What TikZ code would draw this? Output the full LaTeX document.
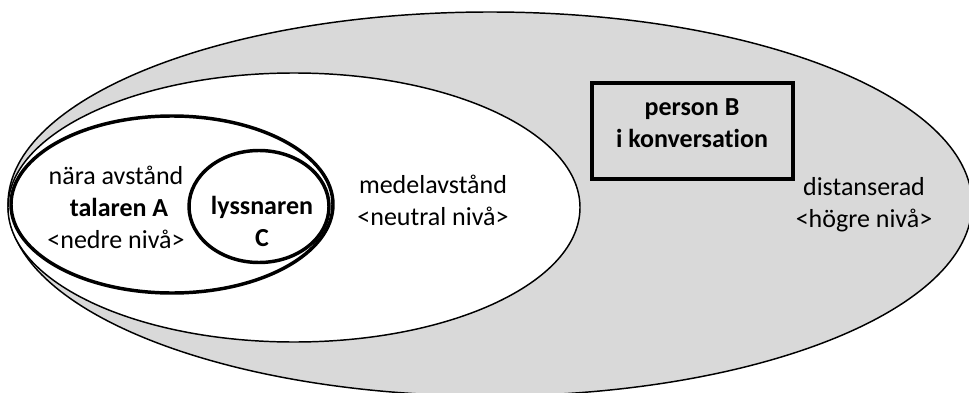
\documentclass[tikz,border=0pt]{standalone}
\usepackage{fontspec}
\setmainfont{Carlito}[Ligatures=NoCommon]
\begin{document}
\begin{tikzpicture}[x=0.75pt,y=-0.75pt,
  thinline/.style={line width=1.1pt},
  thickline/.style={line width=2.6pt},
  label/.style={align=center,inner sep=0pt,font=\fontsize{19.5}{24}\selectfont},
  boldlabel/.style={label,font=\fontsize{19.5}{24}\selectfont\bfseries}]
\definecolor{zonegray}{HTML}{D9D9D9}
\useasboundingbox (0,0) rectangle (969,392);
\clip (0,0) rectangle (969,392);
% distant zone
\filldraw[thinline,fill=zonegray] (490,204) ellipse [x radius=482, y radius=192];
% medium zone
\filldraw[thinline,fill=white] (294,207.5) ellipse [x radius=286, y radius=134.5];
% close zone around the speaker
\filldraw[thickline,fill=white] (172,204.5) ellipse [x radius=161, y radius=88.5];
% listener
\filldraw[thickline,fill=white] (259,206.5) ellipse [x radius=70, y radius=56];
% conversation partner
\draw[line width=2.3pt] (592,83) rectangle (793,179);
\node[boldlabel] (personb) at (692,123) {person B\\i konversation};
\node[label] (near) at (116,175) {nära avstånd};
\node[boldlabel] (speaker) at (119,207) {talaren A};
\node[label] (lower) at (116,239) {<nedre nivå>};
\node[boldlabel] (listener) at (262,221) {lyssnaren\\C};
\node[label] (medium) at (433,200) {medelavstånd\\<neutral nivå>};
\node[label] (distant) at (864,205) {distanserad\\<högre nivå>};
\end{tikzpicture}
\end{document}
